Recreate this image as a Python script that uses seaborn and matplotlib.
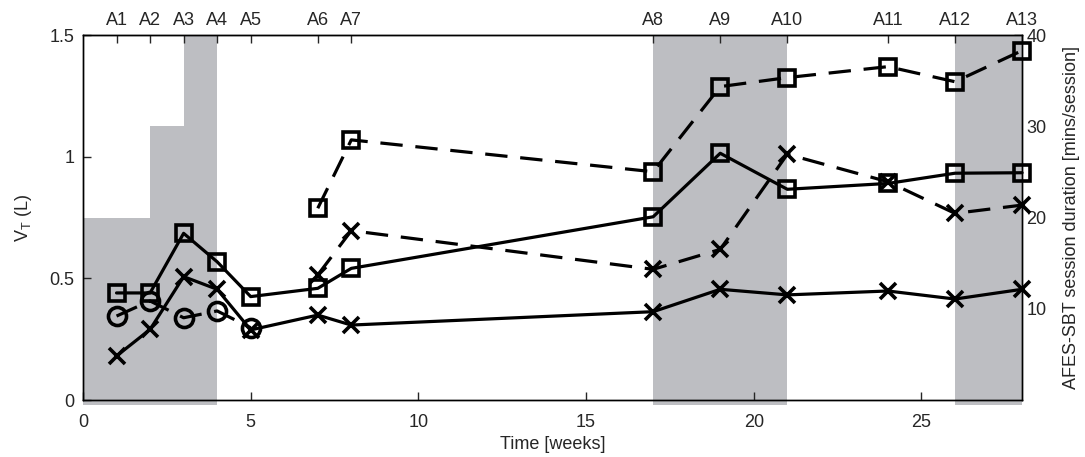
import numpy as np
import matplotlib
matplotlib.use("Agg")
import matplotlib.pyplot as plt
import seaborn as sns

# session weeks / assessment labels (top axis)
assess_weeks = [1, 2, 3, 4, 5, 7, 8, 17, 19, 21, 24, 26, 28]
assess_labels = ["A%d" % i for i in range(1, 14)]

# V_T series, left axis
wk_full = [1, 2, 3, 4, 5, 7, 8, 17, 19, 21, 24, 26, 28]
sq_solid = [0.44, 0.44, 0.685, 0.568, 0.425, 0.459, 0.541, 0.753, 1.014, 0.866, 0.89, 0.932, 0.934]
x_solid = [0.181, 0.29, 0.507, 0.455, 0.288, 0.349, 0.308, 0.363, 0.455, 0.432, 0.448, 0.415, 0.455]

wk_late = [7, 8, 17, 19, 21, 24, 26, 28]
sq_dash = [0.788, 1.069, 0.938, 1.288, 1.325, 1.37, 1.308, 1.436]
x_dash = [0.514, 0.696, 0.537, 0.619, 1.01, 0.897, 0.767, 0.801]

wk_early = [1, 2, 3, 4, 5]
circ = [0.345, 0.407, 0.338, 0.366, 0.297]

# AFES-SBT session duration (right axis), shaded blocks
dur_start = [0, 2, 3, 17, 26]
dur_end = [2, 3, 4, 21, 28]
dur_mins = [20, 30, 40, 40, 40]

sns.set_style("ticks")
plt.rcParams["font.family"] = ["Liberation Sans", "DejaVu Sans"]
plt.rcParams["xtick.direction"] = "in"
plt.rcParams["ytick.direction"] = "in"
plt.rcParams["font.size"] = 13

fig = plt.figure(figsize=(10.85, 4.57), dpi=100)
ax = fig.add_axes([0.0765, 0.1247, 0.8655, 0.7987])
ax2 = ax.twinx()

gray = "#bdbec2"
widths = np.array(dur_end) - np.array(dur_start)
ax2.bar(dur_start, np.array(dur_mins) + 0.5, width=widths, bottom=-0.5,
        align="edge", color=gray, linewidth=0, clip_on=False)
ax2.set_ylim(0, 40)
ax2.set_yticks([10, 20, 30, 40])
ax2.set_ylabel("AFES-SBT session duration [mins/session]", fontsize=13, labelpad=12)
ax2.tick_params(axis="y", length=6, width=1, labelsize=13, pad=3)

ax.set_zorder(ax2.get_zorder() + 1)
ax.patch.set_visible(False)

lw = 2.3
dash = (7, 4)
common = dict(color="k", linewidth=lw, markerfacecolor="none",
              markeredgecolor="k", markeredgewidth=2.6, ax=ax, sort=False,
              clip_on=False)

sns.lineplot(x=wk_full, y=sq_solid, marker="s", markersize=11, **common)
sns.lineplot(x=wk_full, y=x_solid, marker="x", markersize=11, **common)
sns.lineplot(x=wk_late, y=sq_dash, marker="s", markersize=11, dashes=False,
             linestyle=(0, dash), **common)
sns.lineplot(x=wk_late, y=x_dash, marker="x", markersize=11, dashes=False,
             linestyle=(0, dash), **common)
sns.lineplot(x=wk_early, y=circ, marker="o", markersize=13, dashes=False,
             linestyle=(0, dash), **common)

ax.set_xlim(0, 28)
ax.set_ylim(0, 1.5)
ax.set_xticks([0, 5, 10, 15, 20, 25])
ax.set_yticks([0, 0.5, 1, 1.5])
ax.set_yticklabels(["0", "0.5", "1", "1.5"])
ax.set_xlabel("Time [weeks]", fontsize=13, labelpad=4)
ax.set_ylabel("$\\mathregular{V_T}$ (L)", fontsize=13, labelpad=11)
ax.tick_params(axis="both", length=6, width=1, labelsize=13)
ax.tick_params(axis="x", pad=10)
ax.tick_params(axis="y", right=False, pad=6)

top = ax.secondary_xaxis("top")
top.set_xticks(assess_weeks)
top.set_xticklabels(assess_labels)
top.tick_params(axis="x", direction="in", length=6, width=1, labelsize=13, pad=4)

for a in (ax, ax2):
    for s in a.spines.values():
        s.set_visible(True)
        s.set_linewidth(1)
        s.set_color("k")

fig.savefig("out.png", dpi=100)
